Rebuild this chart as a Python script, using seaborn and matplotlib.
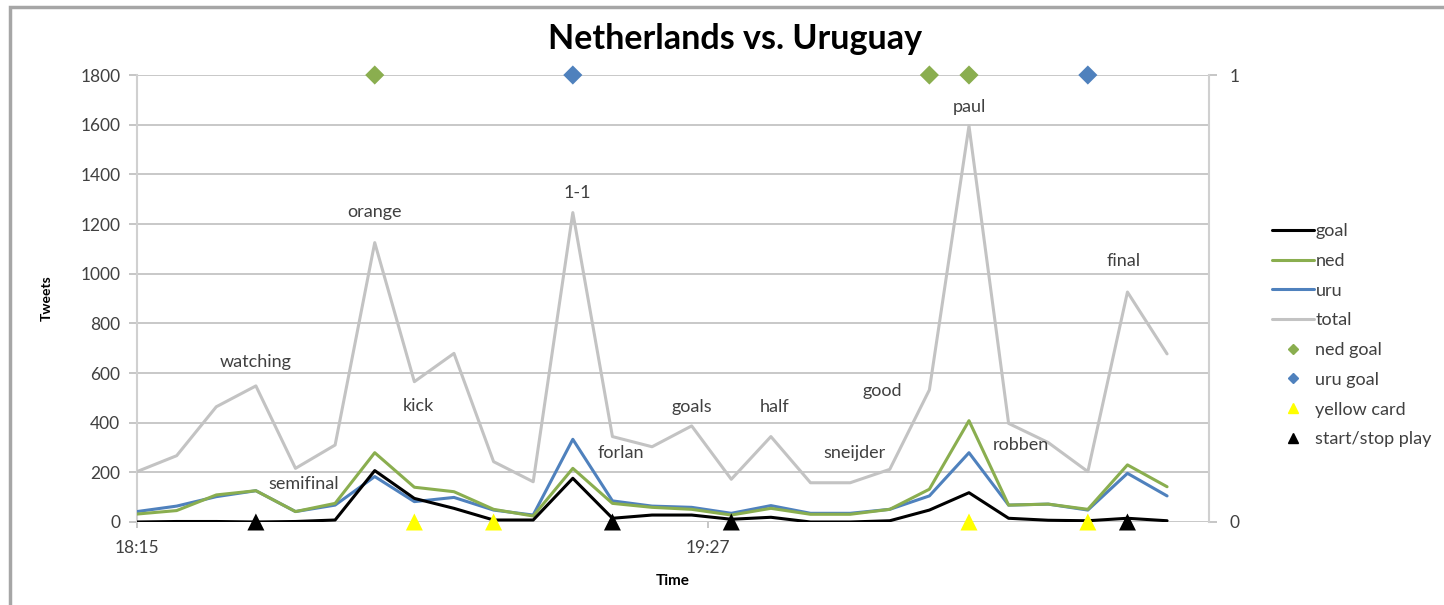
import numpy as np
import pandas as pd
import seaborn as sns
import matplotlib
from matplotlib import pyplot as plt
from matplotlib.lines import Line2D
from matplotlib.patches import Rectangle

# time stamps (5 minute bins)
times = ["18:15", "18:20", "18:25", "18:30", "18:35", "18:40", "18:45", "18:50", "18:55",
         "19:00", "19:05", "19:10", "19:15", "19:20", "19:25", "19:30", "19:35", "19:40",
         "19:45", "19:50", "19:55", "20:00", "20:05", "20:10", "20:15", "20:20", "20:25"]

goal = [0, 2, 2, 0, 2, 8, 207, 95, 55, 8, 8, 176, 15, 28, 28, 11, 19, 0,
        0, 5, 48, 118, 15, 7, 5, 15, 5]
ned = [32, 46, 109, 126, 42, 75, 279, 140, 122, 51, 24, 216, 75, 59, 51, 28, 55, 31,
       31, 51, 132, 408, 68, 72, 51, 230, 142]
uru = [42, 64, 102, 126, 42, 68, 183, 82, 99, 48, 28, 333, 85, 64, 59, 35, 66, 35,
       35, 51, 105, 279, 68, 72, 48, 196, 105]
total = [203, 267, 464, 548, 216, 310, 1125, 565, 679, 243, 162, 1246, 344, 303, 387, 172, 344, 158,
         158, 212, 532, 1595, 397, 320, 203, 926, 677]

# event markers (secondary axis: 1 = top, 0 = bottom)
ned_goal = [np.nan] * 6 + [1] + [np.nan] * 13 + [1, 1] + [np.nan] * 5
uru_goal = [np.nan] * 11 + [1] + [np.nan] * 12 + [1] + [np.nan] * 2
yellow_card = [np.nan] * 7 + [0, np.nan, 0] + [np.nan] * 11 + [0, np.nan, np.nan, 0, np.nan, np.nan]
start_stop = [np.nan] * 3 + [0] + [np.nan] * 8 + [0, np.nan, np.nan, 0] + [np.nan] * 9 + [0, np.nan]

# word labels: text, time (minutes after 18:15), tweets
words = ["watching", "semifinal", "orange", "kick", "1-1", "forlan", "goals", "half",
         "sneijder", "good", "paul", "robben", "final"]
word_x = [15, 21, 30, 35.5, 55.5, 61, 70, 80.5, 90.5, 94, 105, 111.5, 124.5]
word_y = [644, 153, 1248, 467, 1325, 278, 463, 463, 278, 528, 1671, 310, 1051]

t0 = pd.to_datetime("18:15", format="%H:%M")
minutes = [(pd.to_datetime(t, format="%H:%M") - t0).total_seconds() / 60 for t in times]

df = pd.DataFrame({"min": minutes, "goal": goal, "ned": ned, "uru": uru, "total": total,
                   "ned goal": ned_goal, "uru goal": uru_goal,
                   "yellow card": yellow_card, "start/stop play": start_stop})

sns.set_theme(style="white")
plt.rcParams['font.family'] = ['Lato', 'DejaVu Sans']

line_colors = {"goal": "#000000", "ned": "#8AAE4F", "uru": "#4F81BD", "total": "#C3C3C3"}
grid_c = "#BFBFBF"
txt_c = "#404040"

fig = plt.figure(figsize=(14.44, 6.05), dpi=100)
ax = fig.add_axes([0.0949, 0.1372, 0.7424, 0.7388])
ax2 = ax.twinx()

# draw lines (total first so it sits behind)
for key in ["total", "uru", "ned", "goal"]:
    sns.lineplot(x="min", y=key, data=df, ax=ax, color=line_colors[key],
                 linewidth=2.2, legend=False, zorder=3)

ax.set_xlim(0, 135.3)
ax.set_ylim(0, 1800)
ax.set_yticks(range(0, 1801, 200))
ax.set_xticks([0, 72])
ax.set_xticklabels(["18:15", "19:27"])
ax.yaxis.grid(True, color=grid_c, linewidth=1.2)
ax.xaxis.grid(False)
for s in ["top", "right", "bottom"]:
    ax.spines[s].set_visible(False)
ax.spines["left"].set_color("#D0D0D0")
ax.spines["left"].set_linewidth(1.5)
ax.tick_params(axis="y", which="both", left=True, length=6, color=grid_c,
               labelsize=12.5, labelcolor=txt_c, pad=6)
ax.tick_params(axis="x", bottom=True, length=4, color=grid_c,
               labelsize=12.5, labelcolor=txt_c, pad=9)
ax.set_ylabel("Tweets", fontsize=10, fontweight="bold", color="#000000", labelpad=20)
ax.set_xlabel("Time", fontsize=11, fontweight="bold", color="#000000", labelpad=13)

for w, x, y in zip(words, word_x, word_y):
    ax.text(x, y, w, ha="center", va="center", fontsize=13, color=txt_c, zorder=4)

# event markers on secondary axis
markers = [("ned goal", "D", "#8AAE4F"), ("uru goal", "D", "#4F81BD"),
           ("yellow card", "^", "#FFFF00"), ("start/stop play", "^", "#000000")]
for key, m, c in markers:
    sns.scatterplot(x="min", y=key, data=df, ax=ax2, marker=m, color=c,
                    s=95 if m == "D" else 150,
                    edgecolor="none", legend=False, clip_on=False, zorder=5)

ax2.set_ylim(0, 1)
ax2.set_yticks([0, 1])
ax2.set_ylabel("")
for s in ["top", "left", "bottom"]:
    ax2.spines[s].set_visible(False)
ax2.spines["right"].set_color("#D0D0D0")
ax2.spines["right"].set_linewidth(1.5)
ax2.tick_params(axis="y", right=True, length=6, color=grid_c, labelsize=12.5,
                labelcolor=txt_c, pad=9)

fig.text(0.509, 0.935, "Netherlands vs. Uruguay", ha="center", va="center",
         fontsize=24.5, fontweight="bold", color="#000000")

handles = [Line2D([], [], color=line_colors[k], linewidth=2.2, label=k)
           for k in ["goal", "ned", "uru", "total"]]
handles += [Line2D([], [], linestyle="none", marker=m,
                    markersize=5.5 if m == "D" else 6.5, color=c, label=k)
            for k, m, c in markers]
leg = fig.legend(handles=handles, loc="upper left", bbox_to_anchor=(0.876, 0.643),
                 frameon=False, fontsize=13, handlelength=2.3, handletextpad=0.1,
                 labelspacing=0.76, labelcolor=txt_c, borderaxespad=0)

fig.patches.append(Rectangle((10 / 1444, -0.05), 1.1, 1 - 7 / 605 + 0.05,
                             transform=fig.transFigure, fill=False,
                             edgecolor="#A6A6A6", linewidth=2.5))

fig.savefig("out.png", dpi=100)
